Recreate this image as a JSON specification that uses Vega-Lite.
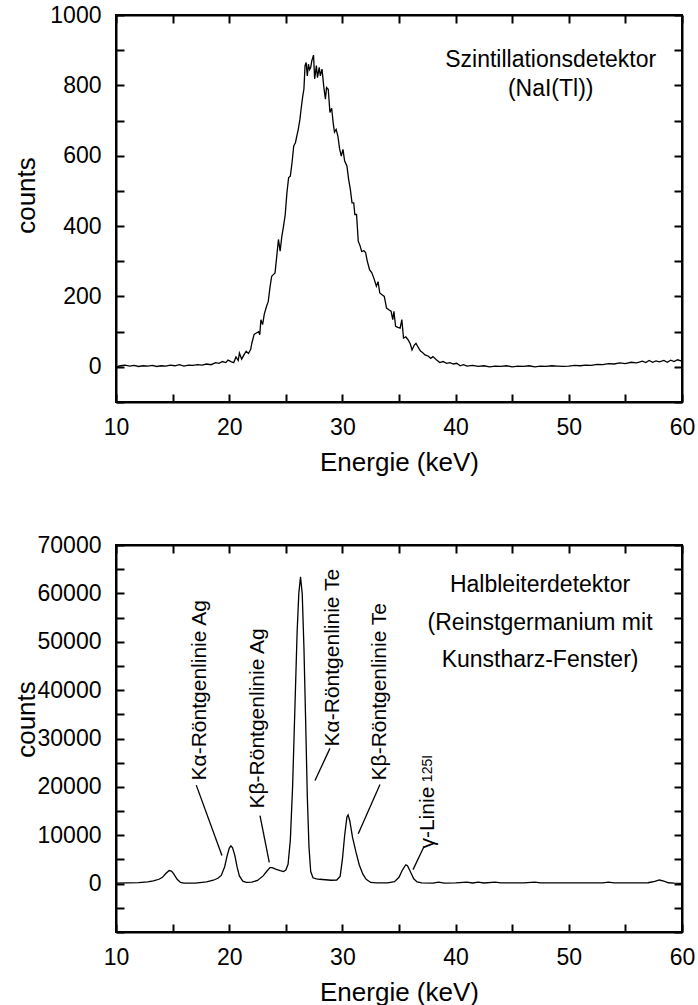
{
  "$schema": "https://vega.github.io/schema/vega-lite/v6.json",
  "padding": {"left": 12, "top": 3, "right": 0, "bottom": 0},
  "background": "white",
  "spacing": 57,
  "config": {
    "view": {"stroke": "black", "strokeWidth": 2},
    "font": "Liberation Sans",
    "axis": {"grid": false, "labelColor": "black", "titleColor": "black", "domainColor": "black", "labelFontSize": 23, "titleFontSize": 26, "titleFontWeight": "normal", "labelFlush": false, "labelOverlap": false, "tickWidth": 2, "domainWidth": 2}
  },
  "datasets": {
    "nai": [
      {"E":10.0,"c":0},{"E":10.4,"c":3},{"E":10.8,"c":5},{"E":11.2,"c":2},{"E":11.6,"c":4},{"E":12.0,"c":1},{"E":12.4,"c":3},{"E":12.8,"c":2},{"E":13.2,"c":4},{"E":13.6,"c":1},{"E":14.0,"c":3},{"E":14.4,"c":2},{"E":14.8,"c":5},{"E":15.2,"c":3},{"E":15.6,"c":6},{"E":16.0,"c":2},{"E":16.4,"c":5},{"E":16.8,"c":4},{"E":17.2,"c":6},{"E":17.6,"c":5},{"E":18.0,"c":8},{"E":18.4,"c":6},{"E":18.8,"c":12},{"E":19.1,"c":10},{"E":19.4,"c":15},{"E":19.7,"c":12},{"E":19.9,"c":19},{"E":20.2,"c":14},{"E":20.4,"c":12},{"E":20.6,"c":28},{"E":20.8,"c":18},{"E":20.9,"c":39},{"E":21.1,"c":22},{"E":21.3,"c":34},{"E":21.5,"c":44},{"E":21.7,"c":38},{"E":21.9,"c":50},{"E":22.0,"c":67},{"E":22.2,"c":92},{"E":22.4,"c":96},{"E":22.6,"c":100},{"E":22.7,"c":91},{"E":22.8,"c":134},{"E":22.95,"c":120},{"E":23.1,"c":150},{"E":23.3,"c":172},{"E":23.45,"c":186},{"E":23.6,"c":225},{"E":23.75,"c":257},{"E":23.9,"c":262},{"E":24.05,"c":267},{"E":24.2,"c":314},{"E":24.35,"c":362},{"E":24.5,"c":329},{"E":24.65,"c":371},{"E":24.8,"c":400},{"E":24.95,"c":433},{"E":25.1,"c":495},{"E":25.25,"c":538},{"E":25.4,"c":542},{"E":25.55,"c":580},{"E":25.7,"c":628},{"E":25.85,"c":637},{"E":26.0,"c":660},{"E":26.1,"c":675},{"E":26.25,"c":704},{"E":26.35,"c":732},{"E":26.5,"c":770},{"E":26.6,"c":789},{"E":26.7,"c":856},{"E":26.8,"c":865},{"E":26.9,"c":827},{"E":27.0,"c":860},{"E":27.1,"c":845},{"E":27.2,"c":851},{"E":27.3,"c":870},{"E":27.45,"c":886},{"E":27.55,"c":818},{"E":27.7,"c":856},{"E":27.8,"c":822},{"E":27.95,"c":851},{"E":28.05,"c":827},{"E":28.2,"c":846},{"E":28.35,"c":798},{"E":28.5,"c":761},{"E":28.6,"c":794},{"E":28.75,"c":789},{"E":28.9,"c":723},{"E":29.05,"c":735},{"E":29.2,"c":690},{"E":29.3,"c":667},{"E":29.45,"c":675},{"E":29.6,"c":656},{"E":29.75,"c":620},{"E":29.9,"c":599},{"E":30.05,"c":618},{"E":30.2,"c":585},{"E":30.4,"c":571},{"E":30.55,"c":533},{"E":30.7,"c":505},{"E":30.85,"c":466},{"E":31.0,"c":466},{"E":31.1,"c":433},{"E":31.25,"c":433},{"E":31.4,"c":357},{"E":31.55,"c":345},{"E":31.7,"c":328},{"E":31.9,"c":330},{"E":32.05,"c":325},{"E":32.2,"c":300},{"E":32.4,"c":276},{"E":32.6,"c":267},{"E":32.8,"c":250},{"E":33.0,"c":229},{"E":33.15,"c":242},{"E":33.3,"c":210},{"E":33.5,"c":205},{"E":33.7,"c":200},{"E":33.9,"c":167},{"E":34.1,"c":162},{"E":34.3,"c":158},{"E":34.45,"c":134},{"E":34.55,"c":158},{"E":34.7,"c":115},{"E":34.9,"c":112},{"E":35.1,"c":110},{"E":35.25,"c":134},{"E":35.4,"c":82},{"E":35.6,"c":85},{"E":35.8,"c":77},{"E":36.0,"c":65},{"E":36.15,"c":48},{"E":36.35,"c":62},{"E":36.5,"c":67},{"E":36.7,"c":55},{"E":36.9,"c":45},{"E":37.1,"c":40},{"E":37.3,"c":34},{"E":37.6,"c":30},{"E":37.8,"c":24},{"E":38.0,"c":29},{"E":38.3,"c":20},{"E":38.6,"c":12},{"E":38.9,"c":15},{"E":39.2,"c":10},{"E":39.5,"c":12},{"E":39.8,"c":8},{"E":40.1,"c":10},{"E":40.4,"c":3},{"E":40.7,"c":6},{"E":41.0,"c":2},{"E":41.5,"c":4},{"E":42.0,"c":1},{"E":42.5,"c":3},{"E":43.0,"c":0},{"E":43.5,"c":2},{"E":44.0,"c":1},{"E":44.5,"c":3},{"E":45.0,"c":0},{"E":45.5,"c":2},{"E":46.0,"c":1},{"E":46.5,"c":3},{"E":47.0,"c":0},{"E":47.5,"c":2},{"E":48.0,"c":1},{"E":48.5,"c":3},{"E":49.0,"c":2},{"E":49.5,"c":1},{"E":50.0,"c":2},{"E":50.5,"c":4},{"E":51.0,"c":3},{"E":51.5,"c":5},{"E":52.0,"c":4},{"E":52.5,"c":7},{"E":53.0,"c":6},{"E":53.5,"c":9},{"E":54.0,"c":8},{"E":54.5,"c":11},{"E":55.0,"c":9},{"E":55.5,"c":13},{"E":56.0,"c":11},{"E":56.5,"c":16},{"E":56.8,"c":12},{"E":57.1,"c":18},{"E":57.4,"c":13},{"E":57.7,"c":17},{"E":58.0,"c":14},{"E":58.4,"c":18},{"E":58.7,"c":13},{"E":59.0,"c":19},{"E":59.3,"c":15},{"E":59.6,"c":20},{"E":60.0,"c":16}
    ],
    "ge": [
      {"E":10.0,"c":100},{"E":11.0,"c":150},{"E":12.0,"c":200},{"E":12.8,"c":350},{"E":13.3,"c":550},{"E":13.8,"c":900},{"E":14.1,"c":1300},{"E":14.4,"c":2100},{"E":14.7,"c":2700},{"E":14.9,"c":2600},{"E":15.1,"c":2000},{"E":15.4,"c":900},{"E":15.7,"c":250},{"E":16.0,"c":100},{"E":17.0,"c":120},{"E":18.0,"c":350},{"E":18.6,"c":700},{"E":19.0,"c":1100},{"E":19.3,"c":1700},{"E":19.6,"c":3500},{"E":19.8,"c":5600},{"E":20.0,"c":7300},{"E":20.15,"c":7800},{"E":20.3,"c":7400},{"E":20.5,"c":5800},{"E":20.7,"c":3400},{"E":20.9,"c":1600},{"E":21.2,"c":500},{"E":21.5,"c":250},{"E":22.0,"c":300},{"E":22.5,"c":650},{"E":23.0,"c":1600},{"E":23.3,"c":2500},{"E":23.6,"c":3300},{"E":23.8,"c":3300},{"E":24.1,"c":3000},{"E":24.5,"c":2700},{"E":24.8,"c":2500},{"E":25.0,"c":2800},{"E":25.2,"c":4000},{"E":25.4,"c":9000},{"E":25.6,"c":20000},{"E":25.8,"c":36000},{"E":26.0,"c":52000},{"E":26.15,"c":60000},{"E":26.3,"c":63400},{"E":26.45,"c":60000},{"E":26.6,"c":49000},{"E":26.75,"c":34000},{"E":26.9,"c":18000},{"E":27.05,"c":7500},{"E":27.2,"c":2500},{"E":27.4,"c":1200},{"E":27.7,"c":1000},{"E":28.0,"c":900},{"E":28.5,"c":800},{"E":29.0,"c":700},{"E":29.5,"c":750},{"E":29.8,"c":1500},{"E":30.0,"c":5000},{"E":30.2,"c":10000},{"E":30.4,"c":13800},{"E":30.5,"c":14200},{"E":30.65,"c":13000},{"E":30.9,"c":9500},{"E":31.2,"c":6500},{"E":31.5,"c":3800},{"E":31.8,"c":2000},{"E":32.1,"c":900},{"E":32.5,"c":250},{"E":33.0,"c":150},{"E":34.0,"c":150},{"E":34.6,"c":400},{"E":35.0,"c":1300},{"E":35.3,"c":2800},{"E":35.6,"c":3900},{"E":35.75,"c":3700},{"E":36.0,"c":2500},{"E":36.3,"c":1000},{"E":36.6,"c":350},{"E":37.0,"c":150},{"E":38.0,"c":120},{"E":38.5,"c":300},{"E":39.0,"c":120},{"E":40.0,"c":150},{"E":41.0,"c":300},{"E":41.5,"c":130},{"E":42.0,"c":320},{"E":42.5,"c":130},{"E":43.5,"c":300},{"E":44.0,"c":140},{"E":45.0,"c":150},{"E":46.0,"c":150},{"E":47.0,"c":300},{"E":47.5,"c":150},{"E":49.0,"c":150},{"E":50.0,"c":150},{"E":51.0,"c":150},{"E":52.0,"c":140},{"E":53.0,"c":160},{"E":53.5,"c":300},{"E":54.0,"c":150},{"E":55.0,"c":150},{"E":56.0,"c":150},{"E":57.0,"c":180},{"E":57.6,"c":450},{"E":58.0,"c":750},{"E":58.4,"c":500},{"E":58.8,"c":180},{"E":59.3,"c":100},{"E":60.0,"c":50}
    ],
    "corner": [{"E": 10, "c": 0}],
    "naitxt": [{"E": 48.4, "c": 852, "t": "Szintillationsdetektor"}, {"E": 48.4, "c": 769, "t": "(NaI(Tl))"}],
    "getxt": [{"E": 47.46, "c": 60320, "t": "Halbleiterdetektor"}, {"E": 47.46, "c": 52390, "t": "(Reinstgermanium mit"}, {"E": 47.46, "c": 44790, "t": "Kunstharz-Fenster)"}],
    "peaklabels": [{"E": 17.95, "c": 21330, "t": "Kα-Röntgenlinie Ag"}, {"E": 23.07, "c": 15530, "t": "Kβ-Röntgenlinie Ag"}, {"E": 29.7, "c": 28370, "t": "Kα-Röntgenlinie Te"}, {"E": 33.85, "c": 21330, "t": "Kβ-Röntgenlinie Te"}, {"E": 38.09, "c": 7250, "t": "γ-Linie"}, {"E": 37.92, "c": 20980, "t": "125I"}],
    "leaders": [{"E": 17.09, "c": 20360, "E2": 19.36, "c2": 5800}, {"E": 22.72, "c": 14080, "E2": 23.54, "c2": 4410}, {"E": 28.9, "c": 27960, "E2": 27.58, "c2": 21330}, {"E": 33.32, "c": 20500, "E2": 31.4, "c2": 10290}, {"E": 37.21, "c": 7660, "E2": 36.24, "c2": 2900}]
  },
  "vconcat": [
    {
      "width": 566, "height": 387,
      "resolve": {"axis": {"x": "independent", "y": "independent"}},
      "layer": [
        {
          "data": {"name": "nai"},
          "mark": {"type": "line", "color": "black", "strokeWidth": 1.3},
          "encoding": {
            "x": {"field": "E", "type": "quantitative", "scale": {"domain": [10, 60], "nice": false, "zero": false},
                  "axis": {"orient": "bottom", "values": [10, 20, 30, 40, 50, 60], "ticks": false, "labelPadding": 14, "title": "Energie (keV)", "titlePadding": 10}},
            "y": {"field": "c", "type": "quantitative", "scale": {"domain": [-100, 1000], "nice": false, "zero": false},
                  "axis": {"orient": "left", "values": [0, 200, 400, 600, 800, 1000], "format": "d", "ticks": false, "labelPadding": 15, "title": "counts", "titleX": -82, "titleY": 180, "titleBaseline": "alphabetic", "titleAngle": 270}}
          }
        },
        {
          "data": {"name": "naitxt"},
          "mark": {"type": "text", "align": "center", "baseline": "alphabetic", "fontSize": 23, "color": "black"},
          "encoding": {
            "x": {"field": "E", "type": "quantitative", "scale": {"domain": [10, 60], "nice": false, "zero": false},
                  "axis": {"orient": "bottom", "offset": -387, "values": [10, 15, 20, 25, 30, 35, 40, 45, 50, 55, 60], "tickSize": 8, "tickColor": "#010101", "labels": false, "title": null}},
            "y": {"field": "c", "type": "quantitative", "scale": {"domain": [-100, 1000], "nice": false, "zero": false},
                  "axis": {"orient": "left", "offset": -566, "values": [-100, 0, 100, 200, 300, 400, 500, 600, 700, 800, 900, 1000], "tickSize": 8, "tickColor": "#010101", "labels": false, "title": null}},
            "text": {"field": "t"}
          }
        },
        {
          "data": {"name": "corner"},
          "mark": {"type": "point", "opacity": 0},
          "encoding": {
            "x": {"field": "E", "type": "quantitative", "scale": {"domain": [10, 60], "nice": false, "zero": false},
                  "axis": {"orient": "top", "offset": -387, "values": [10, 15, 20, 25, 30, 35, 40, 45, 50, 55, 60], "tickSize": 8, "tickColor": "#020202", "labels": false, "domain": false, "title": null}},
            "y": {"field": "c", "type": "quantitative", "scale": {"domain": [-100, 1000], "nice": false, "zero": false},
                  "axis": {"orient": "right", "offset": -566, "values": [-100, 0, 100, 200, 300, 400, 500, 600, 700, 800, 900, 1000], "tickSize": 8, "tickColor": "#020202", "labels": false, "domain": false, "title": null}}
          }
        }
      ]
    },
    {
      "width": 566, "height": 387,
      "resolve": {"axis": {"x": "independent", "y": "independent"}},
      "layer": [
        {
          "data": {"name": "ge"},
          "mark": {"type": "line", "color": "black", "strokeWidth": 1.3},
          "encoding": {
            "x": {"field": "E", "type": "quantitative", "scale": {"domain": [10, 60], "nice": false, "zero": false},
                  "axis": {"orient": "bottom", "values": [10, 20, 30, 40, 50, 60], "ticks": false, "labelPadding": 14, "title": "Energie (keV)", "titlePadding": 10}},
            "y": {"field": "c", "type": "quantitative", "scale": {"domain": [-10000, 70000], "nice": false, "zero": false},
                  "axis": {"orient": "left", "values": [0, 10000, 20000, 30000, 40000, 50000, 60000, 70000], "format": "d", "ticks": false, "labelPadding": 15, "title": "counts", "titleX": -82, "titleY": 174, "titleBaseline": "alphabetic", "titleAngle": 270}}
          }
        },
        {
          "data": {"name": "getxt"},
          "mark": {"type": "text", "align": "center", "baseline": "alphabetic", "fontSize": 23, "color": "black"},
          "encoding": {
            "x": {"field": "E", "type": "quantitative", "scale": {"domain": [10, 60], "nice": false, "zero": false},
                  "axis": {"orient": "bottom", "offset": -387, "values": [10, 15, 20, 25, 30, 35, 40, 45, 50, 55, 60], "tickSize": 8, "tickColor": "#010101", "labels": false, "title": null}},
            "y": {"field": "c", "type": "quantitative", "scale": {"domain": [-10000, 70000], "nice": false, "zero": false},
                  "axis": {"orient": "left", "offset": -566, "values": [-10000, -5000, 0, 5000, 10000, 15000, 20000, 25000, 30000, 35000, 40000, 45000, 50000, 55000, 60000, 65000, 70000], "tickSize": 8, "tickColor": "#010101", "labels": false, "title": null}},
            "text": {"field": "t"}
          }
        },
        {
          "data": {"name": "peaklabels"},
          "mark": {"type": "text", "angle": 270, "align": "left", "baseline": "alphabetic", "color": "black"},
          "encoding": {
            "x": {"field": "E", "type": "quantitative", "scale": {"domain": [10, 60], "nice": false, "zero": false},
                  "axis": {"orient": "top", "offset": -387, "values": [10, 15, 20, 25, 30, 35, 40, 45, 50, 55, 60], "tickSize": 8, "tickColor": "#020202", "labels": false, "domain": false, "title": null}},
            "y": {"field": "c", "type": "quantitative", "scale": {"domain": [-10000, 70000], "nice": false, "zero": false},
                  "axis": {"orient": "right", "offset": -566, "values": [-10000, -5000, 0, 5000, 10000, 15000, 20000, 25000, 30000, 35000, 40000, 45000, 50000, 55000, 60000, 65000, 70000], "tickSize": 8, "tickColor": "#020202", "labels": false, "domain": false, "title": null}},
            "text": {"field": "t"},
            "size": {"condition": {"test": "datum.t === '125I'", "value": 14}, "value": 21}
          }
        },
        {
          "data": {"name": "leaders"},
          "mark": {"type": "rule", "color": "black", "strokeWidth": 1.3},
          "encoding": {
            "x": {"field": "E", "type": "quantitative", "axis": null},
            "y": {"field": "c", "type": "quantitative", "axis": null},
            "x2": {"field": "E2"},
            "y2": {"field": "c2"}
          }
        }
      ]
    }
  ]
}
